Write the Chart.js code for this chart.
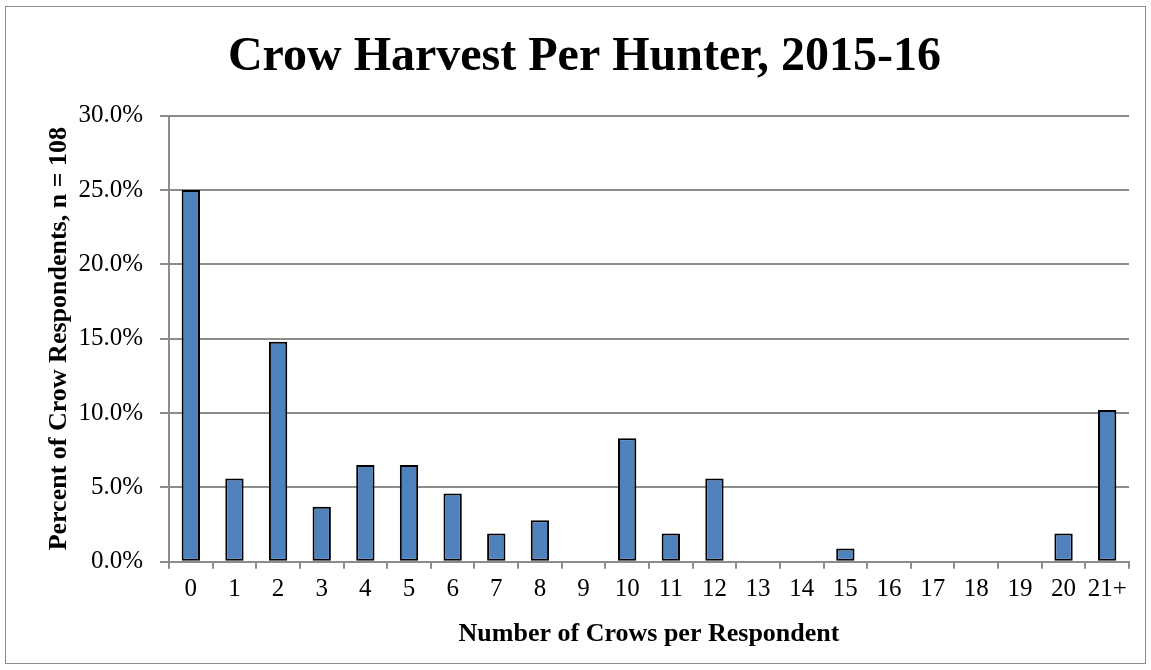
<!DOCTYPE html>
<html>
<head>
<meta charset="utf-8">
<script src="https://cdn.jsdelivr.net/npm/chart.js@4/dist/chart.umd.min.js"></script>
<style>
    html, body { margin: 0; padding: 0; background: #fff; }
    #frame {
        position: absolute;
        left: 5px; top: 6px;
        width: 1141px; height: 658px;
        border: 1px solid #8c8c8c;
        box-sizing: border-box;
    }
    #crowChart { display: block; }
</style>
</head>
<body>
<div id="frame"><canvas id="crowChart" width="1139" height="656"></canvas></div>
<script>
// kategori & nilai (persen responden)
const crowCategories = ["0","1","2","3","4","5","6","7","8","9","10","11","12","13","14","15","16","17","18","19","20","21+"];
const percentValues = [25.0, 5.6, 14.8, 3.7, 6.5, 6.5, 4.6, 1.9, 2.8, 0, 8.3, 1.9, 5.6, 0, 0, 0.9, 0, 0, 0, 0, 1.9, 10.2];
const yTickValues = [0, 5, 10, 15, 20, 25, 30];

const serif = "'Liberation Serif', 'Times New Roman', serif";

const ctx = document.getElementById("crowChart").getContext("2d");
new Chart(ctx, {
    type: "bar",
    data: {
        labels: crowCategories,
        datasets: [{
            data: percentValues,
            backgroundColor: "#4f81bd",
            borderColor: "#000000",
            borderWidth: 2,
            borderSkipped: false,
            barPercentage: 0.42,
            categoryPercentage: 1.0
        }]
    },
    options: {
        responsive: false,
        animation: false,
        layout: { padding: { left: 34, right: 16, top: 6, bottom: 9 } },
        plugins: {
            legend: { display: false },
            tooltip: { enabled: false },
            title: {
                display: true,
                text: "Crow Harvest Per Hunter, 2015-16",
                color: "#000",
                font: { family: serif, size: 48, weight: "bold" },
                padding: { top: 16, bottom: 29 }
            }
        },
        scales: {
            x: {
                grid: {
                    offset: true,
                    drawOnChartArea: false,
                    drawTicks: true,
                    tickLength: 7,
                    color: "#8c8c8c",
                    lineWidth: 2
                },
                border: { color: "#8c8c8c", width: 2 },
                ticks: {
                    color: "#000",
                    font: { family: serif, size: 25 },
                    padding: 6,
                    maxRotation: 0,
                    autoSkip: false
                },
                title: {
                    display: true,
                    text: "Number of Crows per Respondent",
                    color: "#000",
                    font: { family: serif, size: 26, weight: "bold" },
                    padding: { top: 8 }
                }
            },
            y: {
                min: 0,
                max: 30,
                afterBuildTicks: axis => {
                    axis.ticks = yTickValues.map(v => ({ value: v }));
                },
                afterFit: axis => { axis.width = 129; },
                grid: {
                    color: "#8c8c8c",
                    lineWidth: 2,
                    tickLength: 9
                },
                border: { color: "#8c8c8c", width: 2 },
                ticks: {
                    color: "#000",
                    font: { family: serif, size: 25 },
                    padding: 17,
                    callback: v => v.toFixed(1) + "%"
                },
                title: {
                    display: true,
                    text: "Percent of Crow Respondents, n = 108",
                    color: "#000",
                    font: { family: serif, size: 26, weight: "bold" },
                    padding: { top: 4, bottom: 0 }
                }
            }
        }
    }
});
</script>
</body>
</html>
